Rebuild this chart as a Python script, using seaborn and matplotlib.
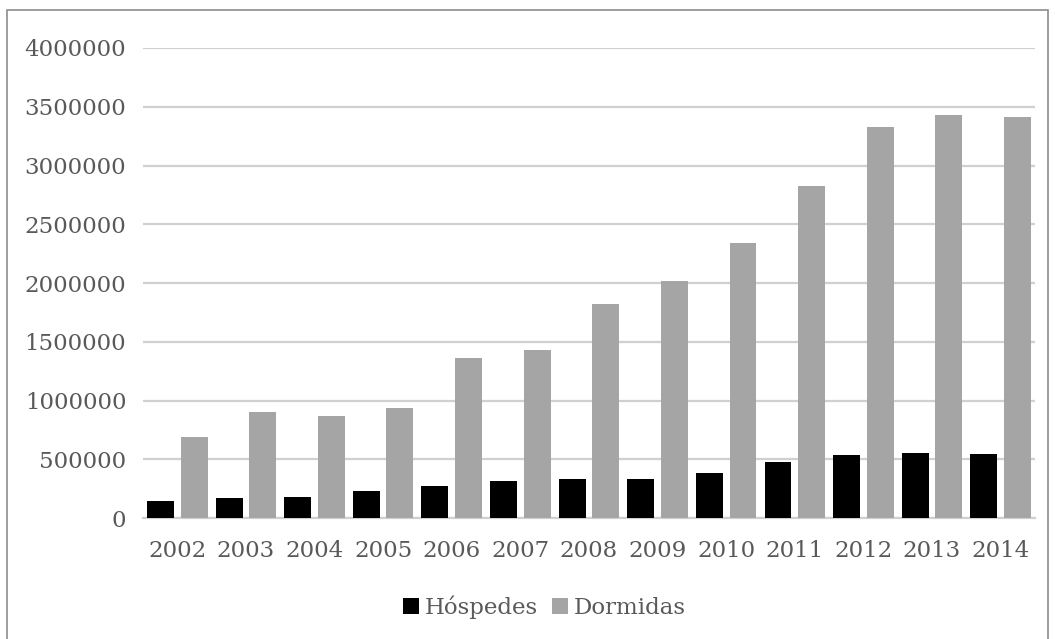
import pandas as pd
import numpy as np
import matplotlib.pyplot as plt
import seaborn as sns
from matplotlib.patches import Rectangle

# values
anos = ['2002', '2003', '2004', '2005', '2006', '2007', '2008',
        '2009', '2010', '2011', '2012', '2013', '2014']
hospedes = [149000, 172000, 181000, 233000, 278000, 313000, 333000,
            330000, 382000, 477000, 534000, 554000, 543000]
dormidas = [693000, 903000, 866000, 935000, 1366000, 1431000, 1824000,
            2017000, 2338000, 2824000, 3330000, 3432000, 3409000]
series = ['Hóspedes', 'Dormidas']

df = pd.DataFrame({'Ano': anos * 2,
                   'Valor': hospedes + dormidas,
                   'Serie': [series[0]] * len(anos) + [series[1]] * len(anos)})

sns.set_style('white')
plt.rcParams['font.family'] = ['DejaVu Serif']
txt = '#595959'

fig = plt.figure(figsize=(10.55, 6.39), dpi=100)
ax = fig.add_axes([0.1355, 0.189, 0.8455, 0.736])

palette = {'Hóspedes': '#000000', 'Dormidas': '#a5a5a5'}
sns.barplot(data=df, x='Ano', y='Valor', hue='Serie', palette=palette,
            width=0.98, gap=0.2, ax=ax, legend=True, zorder=3, linewidth=0)

ax.set_ylim(0, 4000000)
ax.set_xlim(-0.5, len(anos) - 0.5)
ax.set_yticks(np.arange(0, 4000001, 500000))
ax.set_yticklabels([f'{int(v)}' for v in np.arange(0, 4000001, 500000)])
ax.yaxis.grid(True, color='#d0d0d0', linewidth=1.6, zorder=0)
ax.set_axisbelow(True)
for s in ['top', 'right', 'left']:
    ax.spines[s].set_visible(False)
ax.spines['bottom'].set_color('#d0d0d0')
ax.spines['bottom'].set_linewidth(1.6)
ax.tick_params(axis='y', length=0, pad=12, labelsize=16.5, labelcolor=txt)
ax.tick_params(axis='x', length=0, pad=16, labelsize=16.5, labelcolor=txt)
ax.set_xlabel('')
ax.set_ylabel('')

ax.get_legend().remove()
handles, labels = ax.get_legend_handles_labels()
fig.legend(handles[:2], labels[:2], loc='center', bbox_to_anchor=(0.516, 0.049),
           ncol=2, frameon=False, fontsize=16.5, labelcolor=txt,
           handlelength=0.7, handleheight=0.7, handletextpad=0.25, columnspacing=0.6)

# outer chart border
fig.patches.append(Rectangle((0.007, -0.05), 0.986, 1.034, transform=fig.transFigure,
                             fill=False, edgecolor='#8c8c8c', linewidth=1.2))

fig.savefig('out.png', dpi=100)
